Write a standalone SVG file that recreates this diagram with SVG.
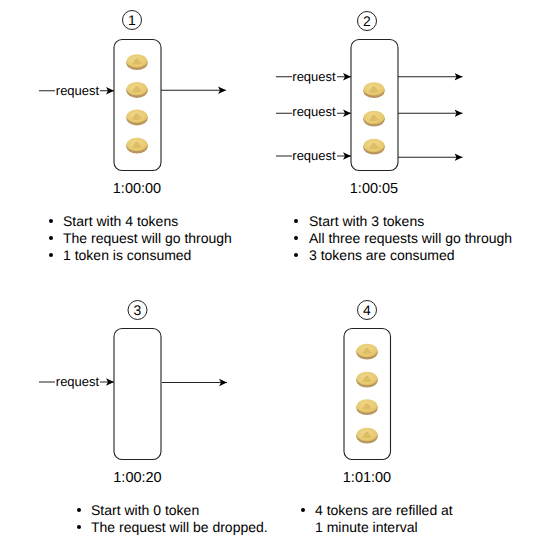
<svg xmlns="http://www.w3.org/2000/svg" xmlns:xlink="http://www.w3.org/1999/xlink" width="533" height="555" viewBox="0 0 533 555">
<style>
text{font-family:"Liberation Sans",Arial,sans-serif;fill:#000;text-rendering:geometricPrecision}
.box{fill:#fff;stroke:#222;stroke-width:1.1}
.num{fill:#fff;stroke:#222;stroke-width:1}
.c{stroke:#222;stroke-width:1.1;fill:none;marker-end:url(#ah)}
.lb{font-size:13px;text-anchor:middle}
.lbbg{fill:#fff}
.t{font-size:14.5px;text-anchor:middle}
.n{font-size:14px;text-anchor:middle}
.b{font-size:14px}
</style>
<defs>
<marker id="ah" markerUnits="userSpaceOnUse" markerWidth="9" markerHeight="9" refX="8" refY="4.500" orient="auto"><path d="M0 0.700L8 4.500L0 8.300L2 4.500Z" fill="#000"/></marker>
<radialGradient id="cg" cx="0.45" cy="0.4" r="0.65"><stop offset="0" stop-color="#efd98f"/><stop offset="0.75" stop-color="#e8c96f"/><stop offset="1" stop-color="#d8ae50"/></radialGradient>
<g id="coin">
<ellipse cx="0" cy="1.300" rx="10.800" ry="7.300" fill="#a98345" opacity="0.85"/>
<ellipse cx="0" cy="-0.500" rx="10.500" ry="6.800" fill="url(#cg)"/>
<path d="M-5.500 2.300C-3.500 2.300-3.300-3-0.300-3.300C2.800-3.300 2.200 0.800 5.500 1.500C3 3.500-2.500 3.600-5.500 2.300Z" fill="#dfbd66"/>
</g>
</defs>
<g id="connectors">
<path class="c" d="M39 90.700H114"/><path class="c" d="M161 90.300H226"/>
<path class="c" d="M276 76.700H351"/><path class="c" d="M398 76.700H462.500"/>
<path class="c" d="M276 113.300H351"/><path class="c" d="M398 113.300H462.500"/>
<path class="c" d="M276 156H351"/><path class="c" d="M398 157.300H462.500"/>
<path class="c" d="M39 382H114"/><path class="c" d="M162 382.500H227"/>
<rect class="lbbg" x="55" y="82" width="45" height="15"/><text class="lb" x="77.500" y="94.500">request</text>
<rect class="lbbg" x="292" y="68" width="45" height="15"/><text class="lb" x="314" y="80.500">request</text>
<rect class="lbbg" x="292" y="104" width="45" height="15"/><text class="lb" x="314" y="116">request</text>
<rect class="lbbg" x="292" y="147" width="45" height="15"/><text class="lb" x="314" y="159.500">request</text>
<rect class="lbbg" x="55" y="373" width="45" height="15"/><text class="lb" x="77.500" y="385.500">request</text>
</g>
<g id="node-1">
<circle class="num" cx="132" cy="20" r="9.500"/><text class="n" x="132" y="25">1</text>
<rect class="box" x="114" y="39.500" width="47" height="131" rx="8"/>
<use xlink:href="#coin" href="#coin" x="137" y="61.500"/><use xlink:href="#coin" href="#coin" x="137" y="89.300"/><use xlink:href="#coin" href="#coin" x="137" y="116.800"/><use xlink:href="#coin" href="#coin" x="137" y="145"/>
<text class="t" x="137" y="193">1:00:00</text>
</g>
<g id="node-2">
<circle class="num" cx="367" cy="21" r="9.500"/><text class="n" x="367" y="26">2</text>
<rect class="box" x="351" y="39.500" width="47" height="131" rx="8"/>
<use xlink:href="#coin" href="#coin" x="374" y="89.500"/><use xlink:href="#coin" href="#coin" x="374" y="118"/><use xlink:href="#coin" href="#coin" x="374" y="146"/>
<text class="t" x="374" y="193">1:00:05</text>
</g>
<g id="node-3">
<circle class="num" cx="137.500" cy="310" r="9.500"/><text class="n" x="137.500" y="315">3</text>
<rect class="box" x="114" y="328.500" width="47" height="131" rx="8"/>
<text class="t" x="137.500" y="482">1:00:20</text>
</g>
<g id="node-4">
<circle class="num" cx="367" cy="310" r="9.500"/><text class="n" x="367" y="315">4</text>
<rect class="box" x="344" y="328.500" width="46.500" height="131" rx="8"/>
<use xlink:href="#coin" href="#coin" x="367" y="351"/><use xlink:href="#coin" href="#coin" x="367" y="379"/><use xlink:href="#coin" href="#coin" x="367" y="406.500"/><use xlink:href="#coin" href="#coin" x="367" y="435"/>
<text class="t" x="367" y="482">1:01:00</text>
</g>
<g id="notes">
<g fill="#000">
<circle cx="51" cy="221" r="2"/><circle cx="51" cy="238" r="2"/><circle cx="51" cy="255" r="2"/>
<circle cx="296" cy="221" r="2"/><circle cx="296" cy="238" r="2"/><circle cx="296" cy="255" r="2"/>
<circle cx="79" cy="510" r="2"/><circle cx="79" cy="527" r="2"/>
<circle cx="303" cy="510" r="2"/>
</g>
<text class="b" x="63" y="226">Start with 4 tokens</text>
<text class="b" x="63" y="243">The request will go through</text>
<text class="b" x="63" y="259.500">1 token is consumed</text>
<text class="b" x="309" y="226">Start with 3 tokens</text>
<text class="b" x="309" y="243">All three requests will go through</text>
<text class="b" x="309" y="259.500">3 tokens are consumed</text>
<text class="b" x="91" y="515">Start with 0 token</text>
<text class="b" x="91" y="532">The request will be dropped.</text>
<text class="b" x="315" y="515">4 tokens are refilled at</text>
<text class="b" x="315" y="532">1 minute interval</text>
</g>
</svg>
